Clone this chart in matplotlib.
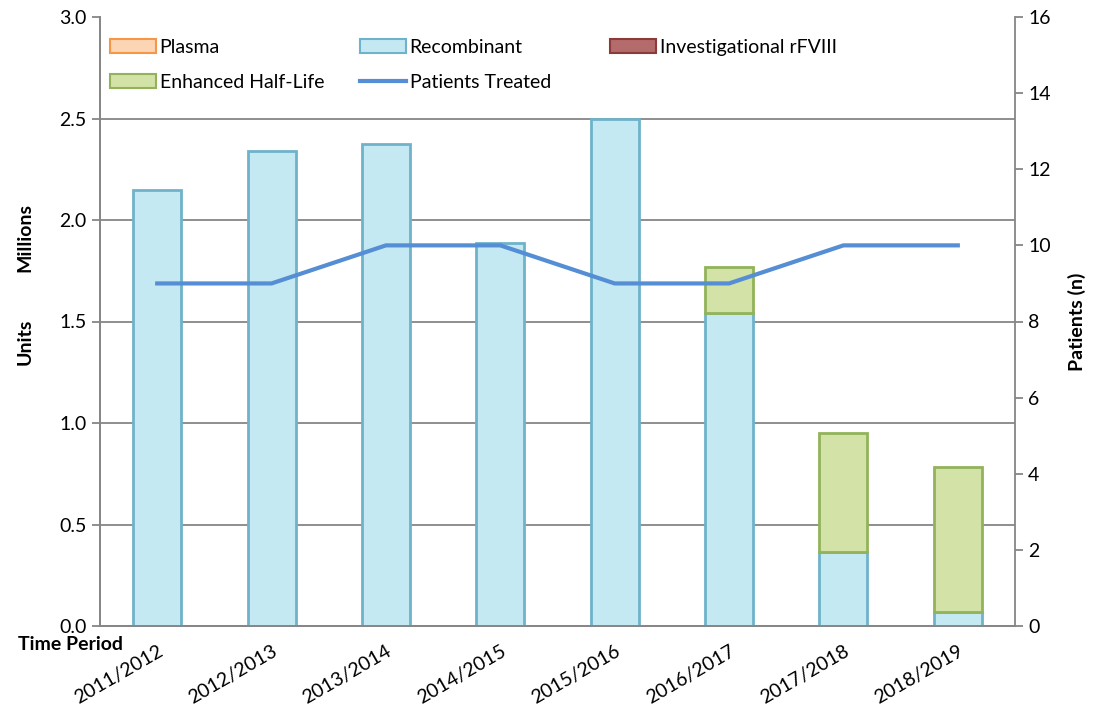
import matplotlib
matplotlib.use("Agg")
import matplotlib.pyplot as plt
from matplotlib.patches import Patch
from matplotlib.lines import Line2D
import numpy as np

plt.rcParams['font.family'] = ['Lato', 'DejaVu Sans']

periods = ["2011/2012", "2012/2013", "2013/2014", "2014/2015", "2015/2016",
           "2016/2017", "2017/2018", "2018/2019"]
plasma = [0, 0, 0, 0, 0, 0, 0, 0]
recombinant = [2.148, 2.34, 2.374, 1.887, 2.497, 1.54, 0.363, 0.067]
investigational = [0, 0, 0, 0, 0, 0, 0, 0]
ehl = [0, 0, 0, 0, 0, 0.227, 0.589, 0.718]
patients = [9, 9, 10, 10, 9, 9, 10, 10]

W, H = 1094, 706
fig = plt.figure(figsize=(W/100, H/100), dpi=100)
ax = fig.add_axes([100/W, 80/H, 915/W, 609/H])
ax2 = ax.twinx()

x = np.arange(len(periods))
w = 0.42
grey = '#868686'
fs = 14

c_pl = ('#FCD5B5', '#F79646')
c_re = ('#C5E9F3', '#6FB3CA')
c_in = ('#B46B6B', '#8C3A3A')
c_eh = ('#D3E2A6', '#93B35A')

bottom = np.zeros(len(x))
for vals, (fc, ec) in [(plasma, c_pl), (recombinant, c_re), (investigational, c_in), (ehl, c_eh)]:
    v = np.array(vals, dtype=float)
    mask = v > 0
    ax.bar(x[mask], v[mask], w, bottom=bottom[mask], color=fc, edgecolor=ec, linewidth=2, zorder=3)
    bottom += v

ax.set_xlim(-0.5, 7.5)
ax.set_ylim(0, 3.0)
yt = np.arange(0, 3.01, 0.5)
ax.set_yticks(yt)
ax.set_yticklabels([f"{v:.1f}" for v in yt])
for yv in yt[1:-1]:
    ax.axhline(yv, color=grey, linewidth=1.3, zorder=0)

ax2.plot(x, patients, color='#558ED5', linewidth=3, zorder=5)
ax2.set_ylim(0, 16)
ax2.set_yticks(np.arange(0, 17, 2))

for a in (ax, ax2):
    a.spines['top'].set_visible(False)
    for s in ['left', 'right', 'bottom']:
        a.spines[s].set_color(grey)
        a.spines[s].set_linewidth(1.3)
    a.tick_params(axis='y', colors=grey, labelcolor='black', labelsize=fs, length=6, width=1.3)
ax.tick_params(axis='x', length=0, labelsize=fs)
ax.set_xticks(x)
ax.set_xticklabels(periods, rotation=30, ha='right', rotation_mode='anchor')
ax.tick_params(axis='x', pad=12)
ax.spines['right'].set_visible(False)

ax2.set_ylabel("Patients (n)", fontsize=fs, fontweight='bold', labelpad=12)

fig.text(25/W, 1 - 237/H, "Millions", rotation=90, ha='center', va='center',
         fontsize=fs, fontweight='bold')
fig.text(25/W, 1 - 342/H, "Units", rotation=90, ha='center', va='center',
         fontsize=fs, fontweight='bold')
fig.text(18/W, 1 - 645/H, "Time Period", ha='left', va='center',
         fontsize=fs, fontweight='bold')

cols = [
    (110, [Patch(facecolor=c_pl[0], edgecolor=c_pl[1], linewidth=1.5, label="Plasma"),
           Patch(facecolor=c_eh[0], edgecolor=c_eh[1], linewidth=1.5, label="Enhanced Half-Life")]),
    (360, [Patch(facecolor=c_re[0], edgecolor=c_re[1], linewidth=1.5, label="Recombinant"),
           Line2D([0], [0], color='#558ED5', linewidth=3, label="Patients Treated")]),
    (610, [Patch(facecolor=c_in[0], edgecolor=c_in[1], linewidth=1.5, label="Investigational rFVIII")]),
]
for xpx, hs in cols:
    leg = fig.legend(handles=hs, loc='upper left', bbox_to_anchor=(xpx/W, 1 - 39/H),
                     frameon=False, fontsize=fs, handlelength=2.35, handleheight=0.75,
                     handletextpad=0.2, labelspacing=0.92, borderpad=0, borderaxespad=0)

fig.savefig("out.png", dpi=100)
